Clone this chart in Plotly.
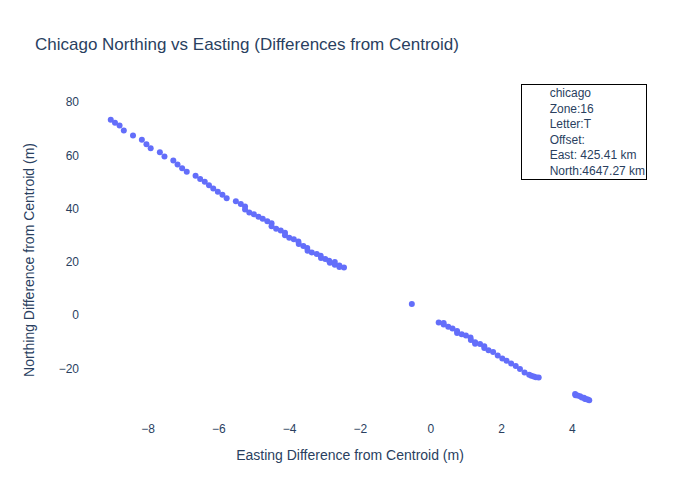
import plotly.graph_objects as go

title = "Chicago Northing vs Easting (Differences from Centroid)"
x_title = "Easting Difference from Centroid (m)"
y_title = "Northing Difference from Centroid (m)"
note_lines = ["chicago", "Zone:16", "Letter:T", "Offset:", "East: 425.41 km", "North:4647.27 km"]

east_west = [-9.06, -8.94, -8.81, -8.69, -8.43, -8.18, -8.05, -7.93, -7.67, -7.54, -7.29, -7.17, -7.04, -6.91,
             -6.66, -6.53, -6.40, -6.28, -6.16, -6.03, -5.90, -5.78, -5.52, -5.38, -5.26, -5.26, -5.14, -5.01,
             -4.88, -4.76, -4.63, -4.51, -4.51, -4.38, -4.25, -4.13, -4.13, -4.01, -3.88, -3.75, -3.74, -3.61,
             -3.50, -3.49, -3.37, -3.23, -3.12, -3.11, -2.99, -2.88, -2.86, -2.72, -2.72, -2.59, -2.59, -2.46]
north_west = [73.4, 72.3, 71.2, 69.4, 67.5, 65.9, 64.2, 62.7, 61.2, 59.6, 58.1, 56.6, 55.2, 53.9,
              52.4, 51.2, 50.1, 48.8, 47.6, 46.4, 45.2, 43.9, 42.8, 41.8, 40.8, 39.7, 38.6, 37.9,
              37.0, 36.2, 35.3, 34.5, 33.4, 32.5, 31.8, 31.0, 30.0, 29.1, 28.5, 27.7, 26.8, 26.0,
              25.3, 24.2, 23.6, 23.0, 22.3, 21.5, 21.1, 20.5, 19.7, 20.0, 19.0, 18.7, 18.1, 17.9]
east_mid = [-0.54]
north_mid = [4.2]
east_east = [0.22, 0.36, 0.36, 0.49, 0.61, 0.74, 0.74, 0.87, 0.99, 1.12, 1.13, 1.25, 1.25, 1.39, 1.51, 1.51,
             1.63, 1.76, 1.89, 2.02, 2.14, 2.27, 2.40, 2.52, 2.65, 2.78, 2.84, 2.91, 2.97, 3.05,
             4.08, 4.09, 4.15, 4.22, 4.27, 4.33, 4.36, 4.40, 4.44, 4.48]
north_east = [-2.7, -2.9, -3.5, -4.3, -5.0, -5.9, -6.7, -7.1, -7.6, -8.3, -9.3, -10.1, -10.7, -10.8, -11.6, -12.3,
              -13.1, -13.8, -15.1, -16.2, -17.1, -18.1, -19.0, -20.2, -21.5, -22.3, -22.7, -23.0, -23.3, -23.4,
              -29.6, -30.0, -30.1, -30.4, -30.9, -31.0, -31.4, -31.5, -31.6, -31.9]

easting = east_west + east_mid + east_east
northing = north_west + north_mid + north_east

indent = "&nbsp;" * 8
note_text = "<br>".join(indent + line for line in note_lines)

fig = go.Figure()
fig.add_trace(go.Scatter(x=easting, y=northing, mode="markers", showlegend=False,
                         marker=dict(color="#636efa", size=6)))
fig.update_layout(
    template="plotly_white",
    width=700, height=500,
    font=dict(family="Liberation Sans", color="#2a3f5f"),
    title=dict(text=title),
    xaxis=dict(title=x_title, showgrid=False, zeroline=False, showline=False, dtick=2),
    yaxis=dict(title=dict(text=y_title, standoff=20), showgrid=False, zeroline=False, showline=False, dtick=20),
    annotations=[dict(text=note_text, xref="paper", yref="paper", x=1.05, y=1.05,
                      xanchor="right", yanchor="top", align="left", showarrow=False,
                      bordercolor="black", borderwidth=1, bgcolor="white")],
)
fig.write_html("out.html", post_script="document.body.style.margin='0';",
               config=dict(displayModeBar=False))
